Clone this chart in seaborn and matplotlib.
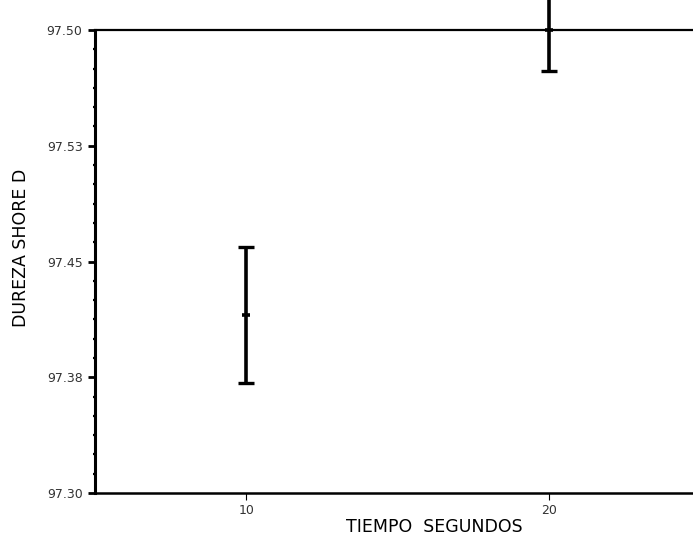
import numpy as np
import pandas as pd
import matplotlib
matplotlib.use("Agg")
import matplotlib.pyplot as plt
import seaborn as sns
from matplotlib.ticker import FixedLocator, AutoMinorLocator

# data
tiempo = [10, 20]
dureza_media = [97.377, 97.500]
dureza_err = [0.0294, 0.0176]

ytick_vals = [97.30, 97.35, 97.40, 97.45, 97.50]
ytick_text = ["97.30", "97.38", "97.45", "97.53", "97.50"]
xtick_vals = [10, 20]

data = pd.DataFrame({"tiempo": tiempo, "dureza": dureza_media, "err": dureza_err})

sns.set_style("ticks")
plt.rcParams["font.family"] = ["DejaVu Sans"]

fig = plt.figure(figsize=(6.93, 5.37), dpi=100)
ax = fig.add_axes([0.1371, 0.0819, 0.874, 0.8622])

ax.errorbar(data["tiempo"], data["dureza"], yerr=data["err"], fmt="none",
            ecolor="black", elinewidth=2.6, capsize=5.5, capthick=2.4, clip_on=False, zorder=3)
sns.scatterplot(ax=ax, x="tiempo", y="dureza", data=data, marker="_", s=40,
                color="black", linewidth=2.6, clip_on=False, zorder=4, legend=False)

ax.set_xlim(5, 25)
ax.set_ylim(97.30, 97.50)
ax.xaxis.set_major_locator(FixedLocator(xtick_vals))
ax.set_xticklabels([str(v) for v in xtick_vals], fontsize=9)
ax.yaxis.set_major_locator(FixedLocator(ytick_vals))
ax.set_yticklabels(ytick_text, fontsize=9)
ax.yaxis.set_minor_locator(AutoMinorLocator(6))

ax.tick_params(axis="y", which="major", direction="out", length=5, width=2, pad=4,
               colors="black", labelcolor="#333333")
ax.tick_params(axis="y", which="minor", direction="inout", length=3, width=1.6, colors="black")
ax.tick_params(axis="x", which="major", direction="out", length=5, width=0.8, pad=3,
               colors="black", labelcolor="#333333")

for side in ["left", "bottom", "top"]:
    ax.spines[side].set_color("black")
ax.spines["left"].set_linewidth(2.2)
ax.spines["bottom"].set_linewidth(1.8)
ax.spines["top"].set_linewidth(1.6)
ax.spines["right"].set_visible(False)

ax.set_xlabel("TIEMPO  SEGUNDOS", fontsize=12.5, color="black")
ax.set_ylabel("DUREZA SHORE D", fontsize=12.5, color="black")
ax.xaxis.set_label_coords(0.56, -0.055)
ax.yaxis.set_label_coords(-0.108, 0.53)

fig.savefig("out.png", dpi=100)
